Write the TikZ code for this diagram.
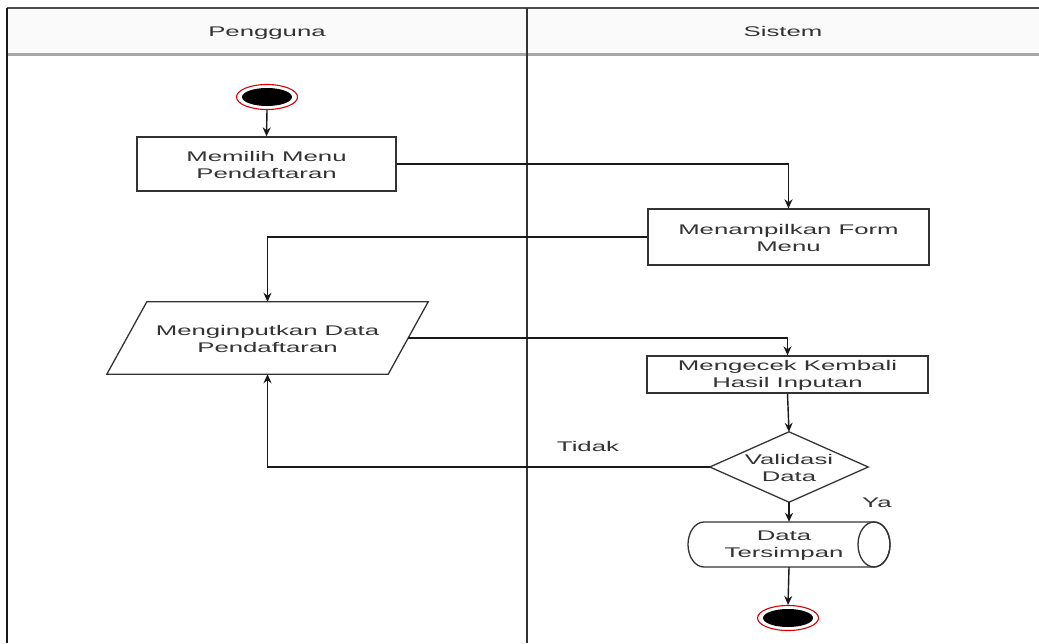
\documentclass[tikz,border=0pt]{standalone}
\usepackage{fontspec}
\setmainfont[FakeStretch=1.84]{Liberation Sans}
\usetikzlibrary{arrows.meta,shapes.geometric}
\begin{document}
\begin{tikzpicture}[x=1pt,y=-1pt,
  every node/.style={font=\fontsize{14}{17}\selectfont, text=black!80},
  label1/.style={text height=10pt, text depth=3pt, inner sep=0pt},
  procbox/.style={draw=black!80, line width=1.3pt, align=center, inner sep=0pt, fill=white},
  ghost/.style={align=center, inner sep=0pt},
  flow/.style={draw=black!90, line width=1.4pt, -{Stealth[length=9pt,width=8pt]}},
  shapeline/.style={draw=black!80, line width=1.3pt},
  termring/.style={ellipse, draw=red!85!black, line width=1.1pt, fill=white, minimum width=61pt, minimum height=25pt, inner sep=0pt}
]
\useasboundingbox (0,0) rectangle (1039,643);
\fill[white] (0,0) rectangle (1039,643);

% swimlane frame
\fill[black!2] (7,8) rectangle (1039,54);
\draw[black!35, line width=3pt] (7,54) -- (1039,54);
\draw[black!70, line width=1.8pt] (7,8) -- (1039,8);
\draw[black!90, line width=1.8pt] (7,8) -- (7,643);
\draw[black!80, line width=1.8pt] (527,8) -- (527,643);
\node[label1] (h1) at (267,33) {Pengguna};
\node[label1] (h2) at (783,33) {Sistem};

% start
\node[termring] (start) at (267,97) {};
\fill[black] (start.center) ellipse [x radius=25pt, y radius=9pt];

% nodes
\node[procbox, minimum width=259pt, minimum height=54pt] (b1) at (266.5,164) {\strut Memilih Menu\\Pendaftaran};
\node[procbox, minimum width=281pt, minimum height=56pt] (b2) at (788.5,237) {\strut Menampilkan Form\\Menu};

\node[ghost, minimum width=321pt, minimum height=72pt] (para) at (267.5,338) {};
\draw[shapeline, fill=white] ([xshift=40pt]para.north west) -- (para.north east) -- ([xshift=-40pt]para.south east) -- (para.south west) -- cycle;
\node[ghost] at (para.center) {\strut Menginputkan Data\\Pendaftaran};
\coordinate (paraE) at ([xshift=-20pt]para.east);

\node[procbox, minimum width=281pt, minimum height=37pt] (b3) at (787.5,374.5) {\strut Mengecek Kembali\\Hasil Inputan};

\node[ghost, minimum width=158pt, minimum height=70pt] (dia) at (789,467) {};
\draw[shapeline, fill=white] (dia.north) -- (dia.east) -- (dia.south) -- (dia.west) -- cycle;
\node[ghost] at (dia.center) {\strut Validasi\\Data};

\node[ghost, minimum width=202pt, minimum height=45pt] (cyl) at (789,544.5) {};
\draw[shapeline, fill=white] (704,522) -- (874,522) arc[start angle=90, end angle=-90, x radius=16pt, y radius=22.5pt] -- (704,567) arc[start angle=270, end angle=90, x radius=16pt, y radius=22.5pt] -- cycle;
\draw[shapeline] (874,544.5) ellipse [x radius=16pt, y radius=22.5pt];
\node[ghost] at (784,544.5) {\strut Data\\Tersimpan};

% end
\node[termring] (end) at (788,618) {};
\fill[black] (end.center) ellipse [x radius=25pt, y radius=9pt];

% connectors
\draw[flow] (start.south) -- (b1.north);
\draw[flow] (b1.east) -| (b2.north);
\draw[flow] (b2.west) -| (para.north);
\draw[flow] (paraE) -| (b3.north);
\draw[flow] (b3.south) -- (dia.north);
\draw[flow] (dia.west) -| (para.south);
\draw[flow] (dia.south) -- (cyl.north);
\draw[flow] (cyl.south) -- (end.north);

% labels
\node[label1] (tidak) at (588,448) {Tidak};
\node[label1] (ya) at (877,504) {Ya};
\end{tikzpicture}
\end{document}
